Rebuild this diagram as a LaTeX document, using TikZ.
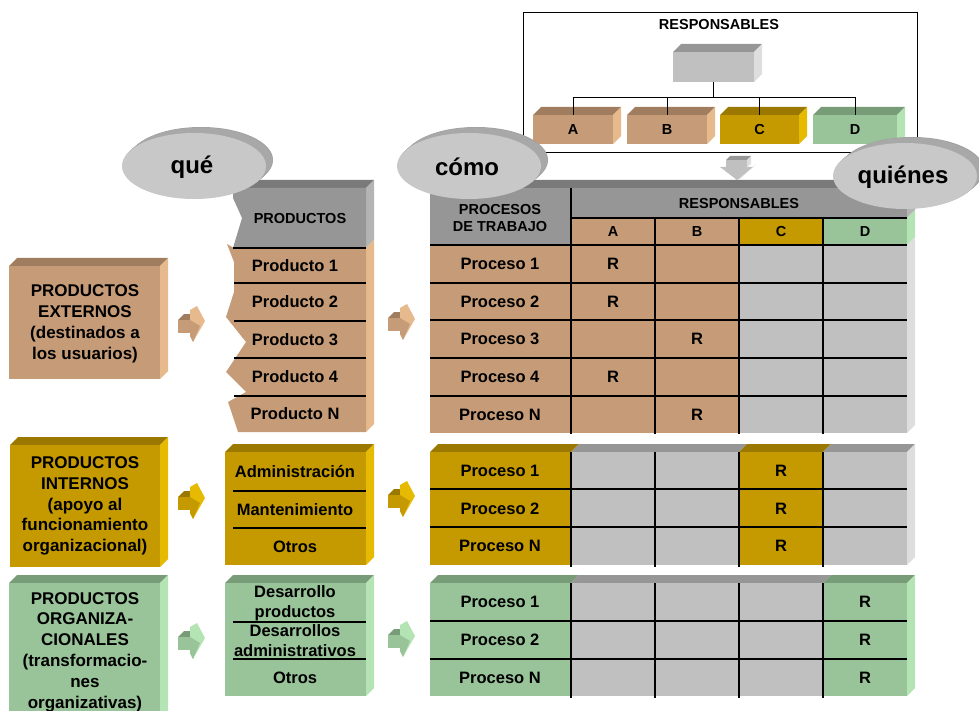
\documentclass[tikz,border=0pt]{standalone}
\usepackage{fontspec}
\setmainfont{Liberation Sans}
\definecolor{tanF}{RGB}{198,156,120}
\definecolor{tanT}{RGB}{160,125,95}
\definecolor{tanS}{RGB}{230,186,140}
\definecolor{goldF}{RGB}{196,154,0}
\definecolor{goldT}{RGB}{155,120,0}
\definecolor{goldS}{RGB}{230,186,0}
\definecolor{grnF}{RGB}{153,196,153}
\definecolor{grnT}{RGB}{120,155,120}
\definecolor{grnS}{RGB}{180,228,180}
\definecolor{gryF}{RGB}{192,192,192}
\definecolor{gryT}{RGB}{150,150,150}
\definecolor{gryS}{RGB}{222,222,222}
\definecolor{hdrF}{RGB}{150,150,150}
\definecolor{hdrT}{RGB}{122,122,122}
\definecolor{hdrS}{RGB}{180,180,180}
\definecolor{discF}{RGB}{200,200,200}
\definecolor{discR}{RGB}{160,160,160}
\definecolor{discE}{RGB}{185,185,185}

% 3D block: front face (x1,y1)-(x2,y2), then front, top and side colours
\newcommand{\blockbox}[7]{%
  \fill[#6] (#1,#2) -- (#1+8,#2-8) -- (#3+8,#2-8) -- (#3,#2) -- cycle;
  \fill[#7] (#3,#2) -- (#3+8,#2-8) -- (#3+8,#4-8) -- (#3,#4) -- cycle;
  \fill[#5] (#1,#2) rectangle (#3,#4);}
% slanted top strip from x1 to x2 above the edge y
\newcommand{\topstrip}[4]{%
  \fill[#4] (#1,#3) -- (#1+8,#3-8) -- (#2+8,#3-8) -- (#2,#3) -- cycle;}
% slanted side strip at x from y1 to y2
\newcommand{\sidestrip}[4]{%
  \fill[#4] (#1,#2) -- (#1+8,#2-8) -- (#1+8,#3-8) -- (#1,#3) -- cycle;}
% small 3D arrow pointing right, top-left corner at (x,y)
\newcommand{\flowarrow}[5]{%
  \begin{scope}[shift={(#1,#2)}]
    \fill[#4] (0,14) -- (6,8) -- (16,8) -- (12,14) -- cycle;
    \fill[#3] (0,14) rectangle (12,27);
    \fill[#5] (12,4) -- (19,0) -- (27,15) -- (15,36) -- (12,30) -- cycle;
    \fill[#3] (12,14) -- (22,20) -- (15,36) -- (12,30) -- cycle;
  \end{scope}}
% raised disc with a label: the rim is built from stacked ellipses
\newcommand{\labeldisc}[4]{%
  \fill[discR] (#1+7,#2-6) ellipse [x radius=72, y radius=33];
  \foreach \t in {0.9,0.8,...,0.05}
    \fill[discR!70!discE] (#1+7*\t,#2-6*\t) ellipse [x radius=72, y radius=33];
  \fill[discF] (#1,#2) ellipse [x radius=72, y radius=33];
  \node[bigtxt] (#3) at (#1-2,#2+1) {#4};}

\begin{document}
\begin{tikzpicture}[x=1pt,y=-1pt,
  celltxt/.style={font=\fontsize{16.5}{20}\selectfont\bfseries, inner sep=0pt, align=center},
  headtxt/.style={font=\fontsize{14.5}{17}\selectfont\bfseries, inner sep=0pt, align=center},
  sidetxt/.style={font=\fontsize{17}{20.8}\selectfont\bfseries, inner sep=0pt, align=center},
  bigtxt/.style={font=\fontsize{24}{28}\selectfont\bfseries, inner sep=0pt},
  facebox/.style={inner sep=0pt, outer sep=0pt},
  gridthin/.style={line width=1.1pt, black},
  gridthick/.style={line width=1.8pt, black},
  tree/.style={line width=0.9pt, black}]
\useasboundingbox (0,0) rectangle (979,711);

% ---------- organisation chart ----------
\node[draw, line width=0.8pt, minimum width=394pt, minimum height=140pt, facebox] (frame) at (720,82) {};
\node[headtxt] (orgtitle) at (719,25) {RESPONSABLES};
\blockbox{673}{52}{754}{82}{gryF}{gryT}{gryS}
\node[facebox, minimum width=81pt, minimum height=30pt] (boss) at (713.5,67) {};
\blockbox{533}{115}{613}{144}{tanF}{tanT}{tanS}
\blockbox{627}{115}{707}{144}{tanF}{tanT}{tanS}
\blockbox{720}{115}{799}{144}{goldF}{goldT}{goldS}
\blockbox{813}{115}{897}{144}{grnF}{grnT}{grnS}
\node[facebox, headtxt, minimum width=80pt, minimum height=29pt] (oa) at (573,129.5) {A};
\node[facebox, headtxt, minimum width=80pt, minimum height=29pt] (ob) at (667,129.5) {B};
\node[facebox, headtxt, minimum width=79pt, minimum height=29pt] (oc) at (759.5,129.5) {C};
\node[facebox, headtxt, minimum width=84pt, minimum height=29pt] (od) at (855,129.5) {D};
\foreach \n in {oa,ob,oc,od}
  \draw[tree] (boss.south) -- ++(0,15) -| (\n.north);

% small arrow pointing down to the table
\fill[gryT] (726,160) -- (730,156) -- (751,156) -- (747,160) -- cycle;
\fill[gryS] (747,160) -- (751,156) -- (751,164) -- (747,167) -- cycle;
\fill[gryF] (726,160) rectangle (747,167);
\fill[gryS] (737,180) -- (753,167) -- (756,164) -- (741,178) -- cycle;
\fill[gryF] (720,167) -- (753,167) -- (737,180) -- cycle;

% ---------- process table, external products ----------
\topstrip{430}{907}{188}{hdrT}
\sidestrip{907}{188}{218}{hdrS}
\sidestrip{907}{218}{245}{grnS}
\sidestrip{907}{245}{433}{gryS}
\fill[hdrF] (430,188) rectangle (907,218);
\fill[hdrF] (430,218) rectangle (571,245);
\fill[tanF] (571,218) rectangle (739,245);
\fill[goldF] (739,218) rectangle (823,245);
\fill[grnF] (823,218) rectangle (907,245);
\fill[tanF] (430,245) rectangle (739,433);
\fill[gryF] (739,245) rectangle (907,433);
\draw[gridthin] (571,218) -- (907,218);
\draw[gridthick] (430,245) -- (907,245);
\foreach \y in {283,320,358,396} \draw[gridthin] (430,\y) -- (907,\y);
\draw[gridthin] (571,188) -- (571,434);
\draw[gridthin] (655,218) -- (655,434);
\draw[gridthick] (739,218) -- (739,434);
\draw[gridthick] (823,218) -- (823,434);
\node[headtxt] (hproc) at (500,218) {PROCESOS\\DE TRABAJO};
\node[headtxt] (hresp) at (739,204) {RESPONSABLES};
\node[headtxt] (ha) at (613,232) {A};
\node[headtxt] (hb) at (697,232) {B};
\node[headtxt] (hc) at (781,232) {C};
\node[headtxt] (hd) at (865,232) {D};
\foreach \n/\y in {1/264,2/301.5,3/339,4/377,N/414.5}
  \node[celltxt] (pe\n) at (500,\y) {Proceso \n};
\node[celltxt] (re1) at (613,264) {R};
\node[celltxt] (re2) at (613,301.5) {R};
\node[celltxt] (re3) at (697,339) {R};
\node[celltxt] (re4) at (613,377) {R};
\node[celltxt] (reN) at (697,414.5) {R};

% ---------- process table, internal products ----------
\topstrip{430}{571}{452}{goldT}
\topstrip{571}{739}{452}{hdrF}
\topstrip{739}{823}{452}{goldT}
\topstrip{823}{907}{452}{hdrF}
\sidestrip{907}{452}{565}{gryS}
\fill[goldF] (430,452) rectangle (571,565);
\fill[gryF] (571,452) rectangle (739,565);
\fill[goldF] (739,452) rectangle (823,565);
\fill[gryF] (823,452) rectangle (907,565);
\foreach \y in {489,527} \draw[gridthin] (430,\y) -- (907,\y);
\draw[gridthin] (571,452) -- (571,567);
\draw[gridthin] (655,452) -- (655,567);
\draw[gridthick] (739,452) -- (739,567);
\draw[gridthick] (823,452) -- (823,567);
\foreach \n/\y in {1/471,2/508.5,N/546}
  \node[celltxt] (pi\n) at (500,\y) {Proceso \n};
\foreach \n/\y in {1/471,2/508.5,N/546}
  \node[celltxt] (ri\n) at (781,\y) {R};

% ---------- process table, organisational products ----------
\topstrip{430}{571}{583}{grnT}
\topstrip{571}{823}{583}{hdrF}
\topstrip{823}{907}{583}{grnT}
\sidestrip{907}{583}{696}{grnS}
\fill[grnF] (430,583) rectangle (571,696);
\fill[gryF] (571,583) rectangle (823,696);
\fill[grnF] (823,583) rectangle (907,696);
\foreach \y in {621,659} \draw[gridthin] (430,\y) -- (907,\y);
\draw[gridthin] (571,583) -- (571,698);
\draw[gridthin] (655,583) -- (655,698);
\draw[gridthick] (739,583) -- (739,698);
\draw[gridthick] (823,583) -- (823,698);
\foreach \n/\y in {1/602,2/640,N/677.5}
  \node[celltxt] (po\n) at (500,\y) {Proceso \n};
\foreach \n/\y in {1/602,2/640,N/677.5}
  \node[celltxt] (ro\n) at (865,\y) {R};

% ---------- product column, external ----------
\fill[hdrT] (233,188) -- (241,180) -- (374,180) -- (366,188) -- cycle;
\fill[hdrS] (366,188) -- (374,180) -- (374,240) -- (366,248) -- cycle;
\fill[tanS] (366,248) -- (374,240) -- (374,424) -- (366,432) -- cycle;
\fill[tanF] (234,248) -- (366,248) -- (366,432) -- (238,432) -- (228,402)
  -- (246,392) -- (226,372) -- (246,342) -- (226,317) -- (234,292)
  -- (234,262) -- (227,244) -- cycle;
\fill[hdrF] (233,188) -- (366,188) -- (366,248) -- (233,248) -- (242,218)
  -- (233,198) -- cycle;
\draw[gridthick] (233,248) -- (366,248);
\foreach \y in {283,321,358,396} \draw[gridthin] (234,\y) -- (366,\y);
\node[headtxt] (hprod) at (300,219) {PRODUCTOS};
\foreach \n/\y in {1/265.5,2/302,3/339.5,4/377,N/414}
  \node[celltxt] (pr\n) at (295,\y) {Producto \n};

% ---------- product column, internal ----------
\blockbox{225}{452}{366}{565}{goldF}{goldT}{goldS}
\foreach \y in {491,528} \draw[gridthin] (233,\y) -- (366,\y);
\node[celltxt] (adm) at (295,472) {Administración};
\node[celltxt] (mant) at (295,509.5) {Mantenimiento};
\node[celltxt] (otrosi) at (295,546.5) {Otros};

% ---------- product column, organisational ----------
\blockbox{225}{583}{366}{696}{grnF}{grnT}{grnS}
\foreach \y in {622,659} \draw[gridthin] (233,\y) -- (366,\y);
\node[celltxt] (desp) at (295,603) {Desarrollo\\productos};
\node[celltxt] (desa) at (295,640.5) {Desarrollos\\administrativos};
\node[celltxt] (otroso) at (295,678) {Otros};

% ---------- product families ----------
\blockbox{9}{266}{160}{379}{tanF}{tanT}{tanS}
\node[sidetxt] (ext) at (85,324) {PRODUCTOS\\EXTERNOS\\(destinados a\\los usuarios)};
\blockbox{10}{445}{160}{567}{goldF}{goldT}{goldS}
\node[sidetxt] (int) at (85,506) {PRODUCTOS\\INTERNOS\\(apoyo al\\funcionamiento\\organizacional)};
\blockbox{9}{583}{160}{730}{grnF}{grnT}{grnS}
\node[sidetxt] (org) at (85,652) {PRODUCTOS\\ORGANIZA-\\CIONALES\\(transformacio-\\nes\\organizativas)};

% ---------- arrows between columns ----------
\flowarrow{178}{306}{tanF}{tanT}{tanS}
\flowarrow{388}{304}{tanF}{tanT}{tanS}
\flowarrow{178}{483}{goldF}{goldT}{goldS}
\flowarrow{388}{481}{goldF}{goldT}{goldS}
\flowarrow{178}{623}{grnF}{grnT}{grnS}
\flowarrow{388}{621}{grnF}{grnT}{grnS}

% ---------- question discs ----------
\labeldisc{194}{166}{que}{qué}
\labeldisc{469}{166}{como}{cómo}
\labeldisc{905}{176}{quienes}{quiénes}
\end{tikzpicture}
\end{document}
